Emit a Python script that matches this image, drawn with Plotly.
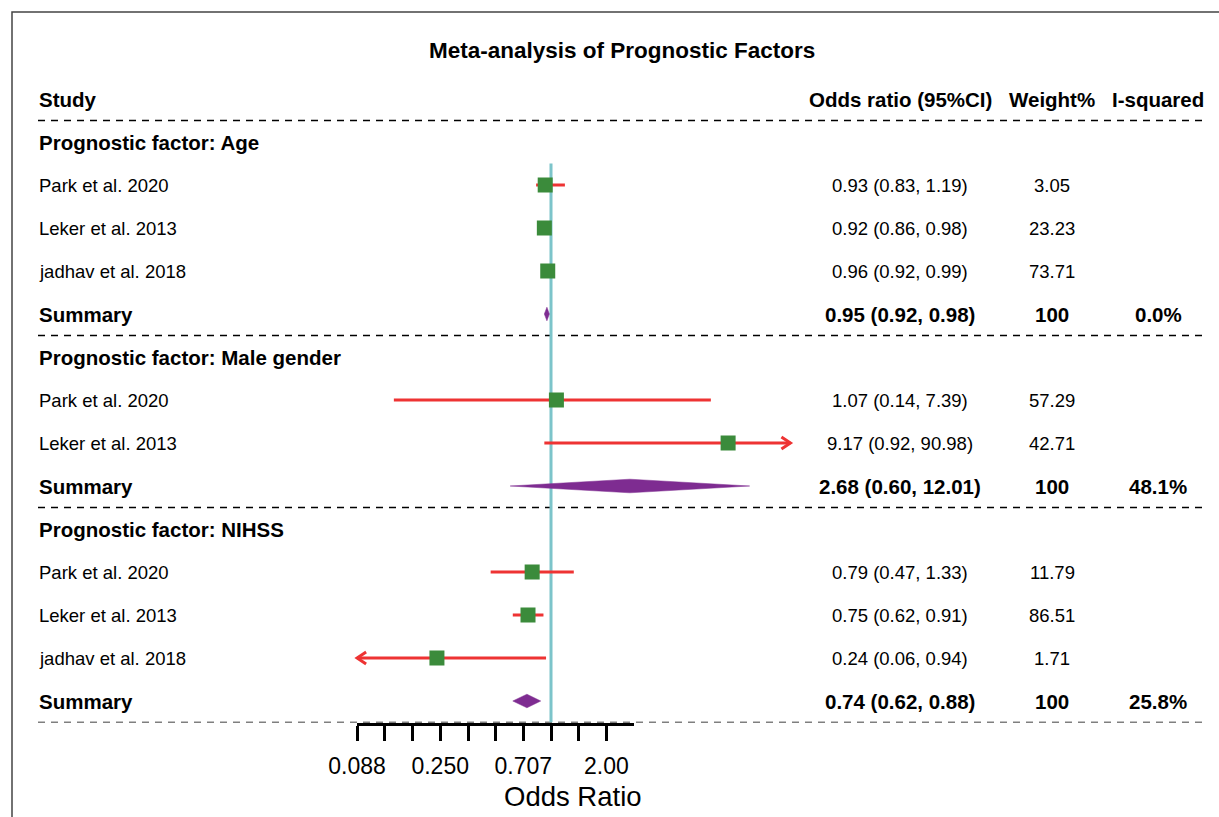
import math
import plotly.graph_objects as go

# ---------------- data ----------------
title_text = "Meta-analysis of Prognostic Factors"
col_headers = ["Study", "Odds ratio (95%CI)", "Weight%", "I-squared"]

row_labels = ["Study", "Prognostic factor: Age", "Park et al. 2020", "Leker et al. 2013",
              "jadhav et al. 2018", "Summary", "Prognostic factor: Male gender",
              "Park et al. 2020", "Leker et al. 2013", "Summary",
              "Prognostic factor: NIHSS", "Park et al. 2020", "Leker et al. 2013",
              "jadhav et al. 2018", "Summary"]
row_kind = ["header", "group", "study", "study", "study", "summary", "group",
            "study", "study", "summary", "group", "study", "study", "study", "summary"]
or_est = [None, None, 0.93, 0.92, 0.96, 0.95, None, 1.07, 9.17, 2.68, None, 0.79, 0.75, 0.24, 0.74]
or_lo = [None, None, 0.83, 0.86, 0.92, 0.92, None, 0.14, 0.92, 0.60, None, 0.47, 0.62, 0.06, 0.62]
or_hi = [None, None, 1.19, 0.98, 0.99, 0.98, None, 7.39, 90.98, 12.01, None, 1.33, 0.91, 0.94, 0.88]
weights = ["", "", "3.05", "23.23", "73.71", "100", "", "57.29", "42.71", "100",
           "", "11.79", "86.51", "1.71", "100"]
i_squared = ["", "", "", "", "", "0.0%", "", "", "", "48.1%", "", "", "", "", "25.8%"]

tick_vals = [0.0884, 0.125, 0.177, 0.25, 0.354, 0.5, 0.707, 1.0, 1.414, 2.0, 2.83]
tick_text = ["0.088", "", "", "0.250", "", "", "0.707", "", "", "2.00", ""]
clip_lo, clip_hi = 0.0884, 20.0
axis_title = "Odds Ratio"

# ---------------- style ----------------
W, H = 1219, 817
FONT = "Liberation Sans, Arial, sans-serif"
RED = "#EE3333"
GREEN = "#3B8B3B"
PURPLE = "#7E2C91"
CYAN = "#7CC4CA"
px_per_log2 = 55.4
px_one = 551.0
row0_px, row_h = 99.0, 43.0
bottom_row = 14.5

def px_to_log10(p):
    return (p - px_one) / px_per_log2 * math.log10(2)

x_range = [px_to_log10(0), px_to_log10(W)]
y_top = -row0_px / row_h
y_dom0 = (H - (row0_px + row_h * bottom_row)) / H

fig = go.Figure()

arrow_f = 2 ** (9 / px_per_log2)
arrow_dy = 6 / row_h
diamond_h = 6.8 / row_h

for i, kind in enumerate(row_kind):
    if kind == "study":
        lo = max(or_lo[i], clip_lo)
        hi = min(or_hi[i], clip_hi)
        fig.add_trace(go.Scatter(x=[lo, hi], y=[i, i], mode="lines",
                                 line=dict(color=RED, width=3), hoverinfo="skip"))
        if or_lo[i] < clip_lo:
            fig.add_trace(go.Scatter(x=[lo * arrow_f, lo, lo * arrow_f],
                                     y=[i - arrow_dy, i, i + arrow_dy], mode="lines",
                                     line=dict(color=RED, width=3), hoverinfo="skip"))
        if or_hi[i] > clip_hi:
            fig.add_trace(go.Scatter(x=[hi / arrow_f, hi, hi / arrow_f],
                                     y=[i - arrow_dy, i, i + arrow_dy], mode="lines",
                                     line=dict(color=RED, width=3), hoverinfo="skip"))
        fig.add_trace(go.Scatter(x=[or_est[i]], y=[i], mode="markers",
                                 marker=dict(symbol="square", size=15, color=GREEN,
                                             line=dict(width=0)), hoverinfo="skip"))
    elif kind == "summary":
        fig.add_trace(go.Scatter(x=[or_lo[i], or_est[i], or_hi[i], or_est[i], or_lo[i]],
                                 y=[i, i - diamond_h, i, i + diamond_h, i],
                                 mode="lines", fill="toself", fillcolor=PURPLE,
                                 line=dict(color=PURPLE, width=0.5), hoverinfo="skip"))

# invisible trace for the tick axis
fig.add_trace(go.Scatter(x=[1.0], y=[0], xaxis="x2", yaxis="y", mode="markers",
                         marker=dict(opacity=0), hoverinfo="skip"))

shapes = []
# reference line at OR = 1
shapes.append(dict(type="line", xref="x", yref="y", x0=1, x1=1, y0=1.5, y1=bottom_row,
                   line=dict(color=CYAN, width=3), layer="below"))
# dashed separators
for yy in [0.5, 5.5, 9.5, 14.5]:
    shapes.append(dict(type="line", xref="paper", yref="y", x0=38 / W, x1=1206 / W,
                       y0=yy, y1=yy, line=dict(color="#000000", width=1.5, dash="7px,6px"),
                       layer="below"))
# border (left and top)
shapes.append(dict(type="path", xref="paper", yref="paper",
                   path=f"M {12/W} 0 L {12/W} {1-12/H} L 1 {1-12/H}",
                   line=dict(color="#444444", width=1.5)))

ann = []
def add_text(txt, xpx, row, anchor, bold=False, size=18.5):
    if txt == "":
        return
    ann.append(dict(text=f"<b>{txt}</b>" if bold else txt, xref="paper", yref="y",
                    x=xpx / W, y=row, xanchor=anchor, yanchor="middle", showarrow=False,
                    font=dict(family=FONT, size=size, color="black")))

for i, kind in enumerate(row_kind):
    bold = kind in ("header", "group", "summary")
    size = 20.5 if bold else 18.5
    add_text(row_labels[i], 37, i, "left", bold, size)
    if kind == "header":
        add_text(col_headers[1], 900, i, "center", True, 20.5)
        add_text(col_headers[2], 1052, i, "center", True, 20.5)
        add_text(col_headers[3], 1158, i, "center", True, 20.5)
    if or_est[i] is not None:
        add_text(f"{or_est[i]:.2f} ({or_lo[i]:.2f}, {or_hi[i]:.2f})", 900, i, "center", bold, size)
    add_text(weights[i], 1052, i, "center", bold, size)
    add_text(i_squared[i], 1158, i, "center", bold, size)

ann.append(dict(text=f"<b>{title_text}</b>", xref="paper", yref="paper", x=621.5 / W,
                y=1 - 50 / H, xanchor="center", yanchor="middle", showarrow=False,
                font=dict(family=FONT, size=22.5, color="black")))
ann.append(dict(text=axis_title, xref="paper", yref="paper", x=573 / W, y=1 - 796 / H,
                xanchor="center", yanchor="middle", showarrow=False,
                font=dict(family=FONT, size=27.5, color="black")))

fig.update_layout(
    width=W, height=H, margin=dict(l=0, r=0, t=0, b=0, pad=0, autoexpand=False),
    paper_bgcolor="white", plot_bgcolor="rgba(0,0,0,0)", showlegend=False,
    xaxis=dict(type="log", range=x_range, domain=[0, 1], visible=False, fixedrange=True,
               automargin=False),
    xaxis2=dict(type="log", domain=[(px_one - 3.5 * px_per_log2) / W, (px_one + 1.5 * px_per_log2) / W],
                range=[math.log10(2 ** -3.5), math.log10(2 ** 1.5)], anchor="y",
                tickmode="array", tickvals=tick_vals, ticktext=tick_text,
                ticks="outside", ticklen=15, tickwidth=3, tickcolor="black",
                showline=True, linewidth=3, linecolor="black", showgrid=False,
                zeroline=False, ticklabelstandoff=6, automargin=False,
                tickfont=dict(family=FONT, size=23, color="black")),
    yaxis=dict(range=[bottom_row, y_top], domain=[y_dom0, 1], visible=False, fixedrange=True,
               automargin=False),
    shapes=shapes, annotations=ann,
)

fig.write_html("out.html", config={"displayModeBar": False},
               post_script="document.body.style.margin='0px';")
